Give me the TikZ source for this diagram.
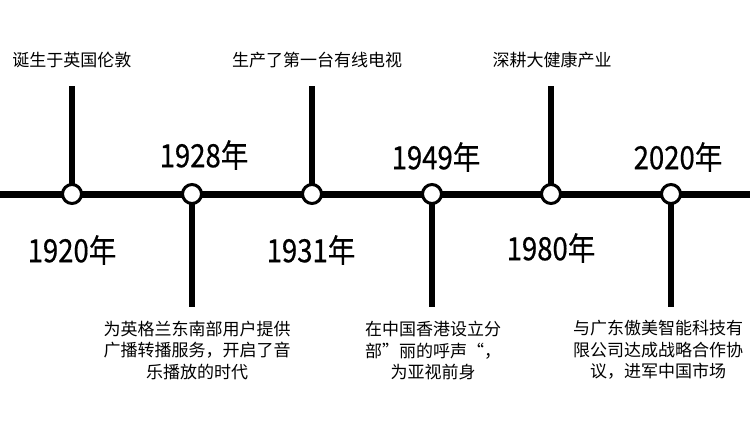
\documentclass[tikz,border=0pt]{standalone}
\usepackage{fontspec}
\setmainfont{Noto Sans CJK SC}
\newfontfamily\yearfont[FakeStretch=0.86,FakeBold=0.5]{Noto Sans CJK SC}

\begin{document}
\begin{tikzpicture}[x=1pt,y=1pt,yscale=-1,xscale=1,
    dot/.style={circle,draw,fill=white,line width=3pt,minimum size=19pt,inner sep=0pt},
    stem/.style={line width=6.5pt,shorten <=-1pt},
    year/.style={font=\yearfont\fontsize{32}{32}\selectfont,inner sep=0pt},
    note/.style={font=\fontsize{17}{21.5}\selectfont,align=center,inner sep=0pt}]
    \useasboundingbox (0,0) rectangle (750,429);

    %Straight Lines [main line]
    \coordinate (left) at (0,194);
    \coordinate (right) at (750,194);
    \draw [line width=7pt] (left) -- (right);

    % Dots
    \node (d1920) at (72,194) [dot] {};
    \node (d1928) at (192,194) [dot] {};
    \node (d1931) at (312,194) [dot] {};
    \node (d1949) at (432,194) [dot] {};
    \node (d1980) at (551,194) [dot] {};
    \node (d2020) at (671,194) [dot] {};

    %Straight Lines [stems]
    \coordinate (e1920) at (72,86);
    \coordinate (e1928) at (192,307);
    \coordinate (e1931) at (312,86);
    \coordinate (e1949) at (432,307);
    \coordinate (e1980) at (551,86);
    \coordinate (e2020) at (671,307);
    \draw [stem] (d1920) -- (e1920);
    \draw [stem] (d1928) -- (e1928);
    \draw [stem] (d1931) -- (e1931);
    \draw [stem] (d1949) -- (e1949);
    \draw [stem] (d1980) -- (e1980);
    \draw [stem] (d2020) -- (e2020);

    % Text Node [years]
    \node (y1920) at (72,250) [year] {1920年};
    \node (y1928) at (204,155) [year] {1928年};
    \node (y1931) at (311,250) [year] {1931年};
    \node (y1949) at (436,157) [year] {1949年};
    \node (y1980) at (551,248) [year] {1980年};
    \node (y2020) at (678,157) [year] {2020年};

    % Text Node [events]
    \node (n1920) at (72,60) [note] {诞生于英国伦敦};
    \node (n1928) at (197,350) [note] {为英格兰东南部用户提供\\广播转播服务，开启了音\\乐播放的时代};
    \node (n1931) at (317,60) [note] {生产了第一台有线电视};
    \node (n1949) at (433,351) [note] {在中国香港设立分\\部”丽的呼声“，\\为亚视前身};
    \node (n1980) at (552,60) [note] {深耕大健康产业};
    \node (n2020) at (658,350) [note] {与广东傲美智能科技有\\限公司达成战略合作协\\议，进军中国市场};

\end{tikzpicture}
\end{document}
